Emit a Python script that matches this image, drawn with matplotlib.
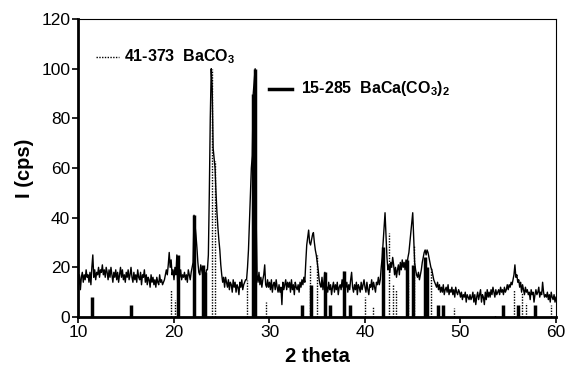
import numpy as np
import matplotlib
matplotlib.use('Agg')
import matplotlib.pyplot as plt

plt.rcParams['font.family'] = ['Liberation Sans', 'DejaVu Sans']
plt.rcParams['mathtext.fontset'] = 'custom'
plt.rcParams['mathtext.rm'] = 'Liberation Sans'
plt.rcParams['mathtext.bf'] = 'Liberation Sans:bold'

# measured pattern, 0.1 deg steps from 10 to 60 (one row per degree)
intensity = [
    13, 17, 11, 16, 18, 14, 17, 15, 19, 16,
    17, 14, 18, 13, 20, 25, 16, 19, 15, 18,
    17, 20, 16, 19, 18, 21, 17, 19, 16, 20,
    18, 15, 19, 16, 20, 17, 14, 18, 16, 19,
    15, 18, 14, 17, 20, 16, 19, 15, 17, 14,
    18, 16, 19, 15, 17, 20, 16, 14, 18, 15,
    17, 14, 19, 16, 15, 18, 13, 17, 16, 19,
    14, 17, 13, 16, 15, 12, 17, 14, 16, 13,
    15, 12, 16, 14, 13, 17, 14, 15, 13, 14,
    15, 17, 19, 17, 21, 26, 20, 23, 17, 19,
    15, 20, 17, 25, 12, 18, 16, 19, 15, 17,
    16, 18, 15, 17, 14, 19, 17, 15, 18, 20,
    22, 41, 37, 33, 28, 22, 18, 17, 21, 19,
    17, 15, 18, 16, 19, 19, 25, 50, 80, 100,
    92, 68, 64, 60, 50, 42, 36, 31, 27, 21,
    17, 14, 16, 12, 16, 14, 12, 15, 11, 14,
    13, 10, 15, 12, 14, 10, 13, 12, 9, 14,
    12, 15, 11, 13, 14, 15, 15, 20, 27, 38,
    50, 60, 65, 90, 95, 100, 40, 17, 14, 18,
    13, 16, 12, 15, 17, 21, 13, 12, 15, 12,
    14, 11, 15, 10, 13, 14, 11, 15, 12, 10,
    13, 10, 12, 5, 14, 11, 13, 15, 11, 14,
    12, 14, 10, 15, 11, 13, 9, 14, 12, 11,
    13, 10, 14, 12, 15, 13, 16, 14, 22, 29,
    32, 35, 30, 29, 31, 33, 34, 30, 27, 25,
    22, 19, 15, 13, 12, 16, 11, 14, 18, 13,
    12, 10, 14, 11, 13, 9, 12, 14, 10, 13,
    11, 14, 9, 12, 13, 11, 15, 12, 18, 13,
    12, 14, 10, 13, 11, 15, 18, 12, 10, 13,
    11, 14, 9, 13, 12, 10, 14, 11, 13, 15,
    12, 10, 14, 11, 9, 13, 12, 15, 11, 14,
    12, 10, 14, 13, 16, 13, 15, 20, 24, 30,
    36, 42, 33, 24, 19, 21, 18, 22, 20, 24,
    21, 17, 20, 16, 19, 21, 17, 22, 19, 23,
    20, 22, 19, 23, 21, 24, 26, 30, 34, 38,
    42, 32, 22, 19, 17, 16, 18, 15, 17, 19,
    22, 24, 26, 27, 25, 27, 26, 24, 22, 20,
    19, 17, 15, 14, 13, 12, 14, 11, 13, 10,
    12, 10, 13, 9, 11, 12, 10, 13, 9, 11,
    10, 12, 9, 11, 8, 12, 10, 9, 11, 10,
    8, 10, 7, 9, 8, 10, 6, 9, 8, 7,
    9, 7, 8, 10, 6, 9, 5, 8, 10, 7,
    9, 11, 6, 9, 8, 5, 10, 7, 11, 8,
    10, 8, 11, 9, 12, 10, 8, 11, 9, 10,
    11, 9, 12, 10, 11, 9, 12, 10, 11, 13,
    11, 13, 12, 14, 13, 15, 17, 21, 16, 17,
    14, 15, 12, 14, 10, 13, 11, 9, 12, 10,
    11, 9, 10, 7, 11, 9, 10, 6, 9, 11,
    9, 10, 12, 8, 10, 9, 14, 10, 8, 9,
    8, 10, 7, 9, 6, 10, 8, 7, 9, 6,
    8,
]
two_theta = np.round(10 + 0.1 * np.arange(len(intensity)), 2)

# JCPDS 41-373 BaCO3 (dotted sticks)
baco3_pos = [19.7, 20.1, 24.0, 24.3, 27.6, 29.6, 34.25, 35.0, 40.05, 40.8,
             42.5, 42.9, 43.3, 44.5, 45.1, 46.9, 49.3, 53.6, 55.6, 56.45, 56.9, 59.5]
baco3_int = [11, 7, 100, 63, 15, 6, 21, 25, 8, 4,
             34, 13, 11, 15, 29, 20, 3.5, 1, 11, 9.5, 5.5, 5]

# JCPDS 15-285 BaCa(CO3)2 (solid sticks)
baca_pos = [11.4, 15.45, 20.45, 22.1, 23.05, 23.25, 28.3, 28.5, 33.4, 34.35,
            35.8, 36.3, 37.8, 38.4, 41.9, 44.4, 45.0, 46.25, 46.45, 47.6,
            48.2, 54.45, 56.05, 57.85]
baca_int = [8, 5, 25, 41, 21, 18, 90, 100, 5, 13,
            18, 5, 18.5, 5, 28, 23, 21, 24, 20, 5,
            5, 5, 5, 5]

fig = plt.figure(figsize=(5.7, 3.74), dpi=100)
ax = fig.add_axes([0.1377, 0.1524, 0.8377, 0.7966])

ax.vlines(baco3_pos, 0, baco3_int, colors='black', linestyles=(0, (1, 1)), linewidth=1.0)
ax.vlines(baca_pos, 0, baca_int, colors='black', linestyles='solid', linewidth=2.5)
ax.plot(two_theta, intensity, color='black', linewidth=1.0)

ax.set_xlim(10, 60)
ax.set_ylim(0, 120)
ax.set_xticks(np.arange(10, 61, 10))
ax.set_yticks(np.arange(0, 121, 20))
ax.tick_params(direction='out', length=4, width=1.2, labelsize=12.5, pad=2)
ax.spines['left'].set_linewidth(2)
ax.spines['bottom'].set_linewidth(2)
ax.spines['top'].set_linewidth(0.8)
ax.spines['right'].set_linewidth(0.8)

ax.set_xlabel('2 theta', fontsize=14.5, fontweight='bold', labelpad=5)
ax.set_ylabel('I (cps)', fontsize=14.5, fontweight='bold', labelpad=5)

# legend entries placed as in the original figure
ax.plot([0.037, 0.085], [0.874, 0.874], transform=ax.transAxes, color='black',
        linestyle=(0, (1, 1)), linewidth=1.0)
ax.text(0.095, 0.874, r'41-373  BaCO$_\mathbf{3}$', transform=ax.transAxes,
        fontsize=11.5, fontweight='bold', va='center', ha='left')
ax.plot([0.399, 0.4465], [0.766, 0.766], transform=ax.transAxes, color='black',
        linestyle='solid', linewidth=2.5)
ax.text(0.465, 0.766, r'15-285  BaCa(CO$_\mathbf{3}$)$_\mathbf{2}$', transform=ax.transAxes,
        fontsize=11.5, fontweight='bold', va='center', ha='left')

fig.savefig('out.png', dpi=100)
